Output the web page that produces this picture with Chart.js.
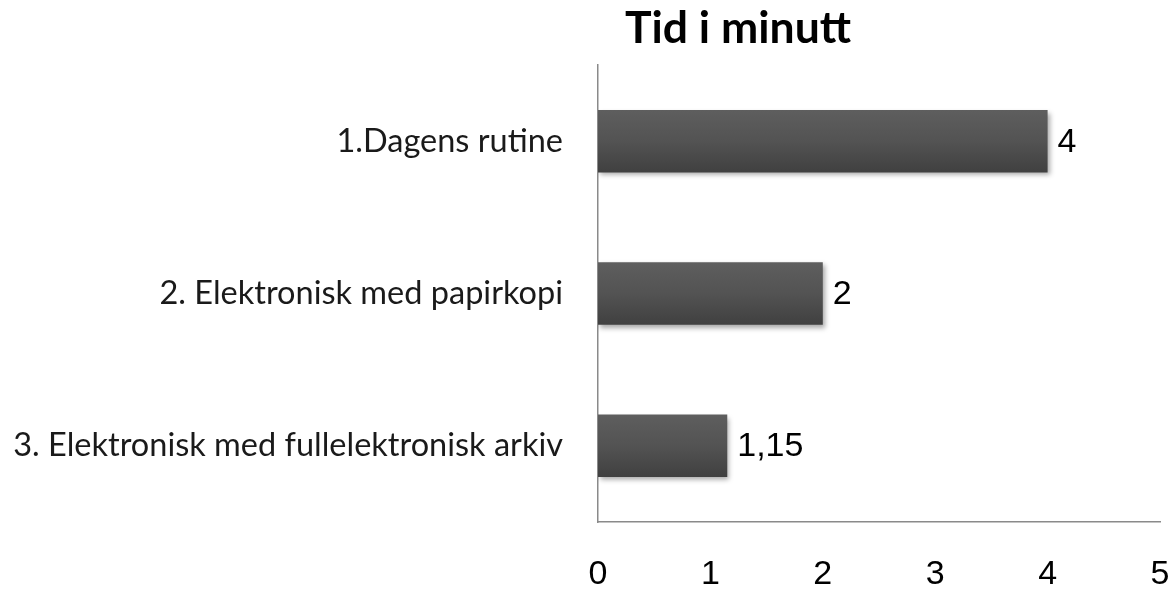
<!DOCTYPE html>
<html><head><meta charset="utf-8">
<script src="https://cdn.jsdelivr.net/npm/chart.js@4/dist/chart.umd.min.js"></script>
<style>html,body{margin:0;padding:0;background:#fff}#wrap{width:1171px;height:589px;position:relative}</style>
</head><body><div id="wrap"><canvas id="c"></canvas></div>
<script>
const categories = ['1.Dagens rutine', '2. Elektronisk med papirkopi', '3. Elektronisk med fullelektronisk arkiv'];
const values = [4, 2, 1.15];
const xTickValues = [0, 1, 2, 3, 4, 5];
const titleText = 'Tid i minutt';

const fmt = v => String(v).replace('.', ',');

const titlePlugin = {
  id: 'customTitle',
  afterDraw(chart) {
    const ctx = chart.ctx;
    ctx.save();
    ctx.font = 'bold 44.5px Lato, "Liberation Sans", sans-serif';
    ctx.fillStyle = '#000';
    ctx.textAlign = 'center';
    ctx.textBaseline = 'middle';
    ctx.fillText(titleText, 738, 29);
    ctx.restore();
  }
};

const shadowPlugin = {
  id: 'barShadow',
  beforeDatasetsDraw(chart) {
    const ctx = chart.ctx;
    ctx.save();
    ctx.shadowColor = 'rgba(0,0,0,0.35)';
    ctx.shadowBlur = 5;
    ctx.shadowOffsetX = 2;
    ctx.shadowOffsetY = 3;
  },
  afterDatasetsDraw(chart) {
    chart.ctx.restore();
  }
};

const labelPlugin = {
  id: 'valueLabels',
  afterDatasetsDraw(chart) {
    const ctx = chart.ctx;
    const meta = chart.getDatasetMeta(0);
    ctx.save();
    ctx.font = '34px "Liberation Sans", Arial, sans-serif';
    ctx.fillStyle = '#000';
    ctx.textAlign = 'left';
    ctx.textBaseline = 'middle';
    meta.data.forEach((el, i) => {
      ctx.fillText(fmt(values[i]), el.x + 10, el.y + 1);
    });
    ctx.restore();
  }
};

new Chart(document.getElementById('c'), {
  type: 'bar',
  data: {
    labels: categories,
    datasets: [{
      data: values,
      backgroundColor: (c) => {
        const chart = c.chart;
        const y = chart.scales && chart.scales.y;
        if (!y || c.dataIndex === undefined || !chart.chartArea) return '#4f4f4f';
        const cy = y.getPixelForValue(c.dataIndex);
        const h = 31;
        const g = chart.ctx.createLinearGradient(0, cy - h, 0, cy + h);
        g.addColorStop(0, '#5e5e5e');
        g.addColorStop(0.5, '#535353');
        g.addColorStop(1, '#404040');
        return g;
      },
      borderWidth: 0,
      barPercentage: 0.41,
      categoryPercentage: 1.0
    }]
  },
  options: {
    indexAxis: 'y',
    responsive: true,
    maintainAspectRatio: false,
    animation: false,
    layout: { padding: { top: 65, right: 11, left: 0, bottom: 0 } },
    plugins: { legend: { display: false }, title: { display: false }, tooltip: { enabled: false } },
    scales: {
      x: {
        min: 0, max: 5,
        afterBuildTicks: (s) => { s.ticks = xTickValues.map(v => ({ value: v })); },
        grid: { display: false, drawTicks: false },
        border: { display: true, color: '#8a8a8a', width: 1.5 },
        ticks: { color: '#000', padding: 32, font: { family: '"Liberation Sans", Arial, sans-serif', size: 34 }, maxRotation: 0 },
        afterFit: (s) => { s.height = 67; s.paddingRight = 0; s.paddingLeft = 0; }
      },
      y: {
        grid: { display: false, drawTicks: false },
        border: { display: true, color: '#8a8a8a', width: 1.5 },
        ticks: { color: '#1a1a1a', padding: 35, font: { family: 'Lato, "Open Sans", sans-serif', size: 32.5 } },
        afterFit: (s) => { s.width = 598; s.paddingTop = 0; s.paddingBottom = 0; }
      }
    }
  },
  plugins: [shadowPlugin, labelPlugin, titlePlugin]
});
</script>
</body></html>
